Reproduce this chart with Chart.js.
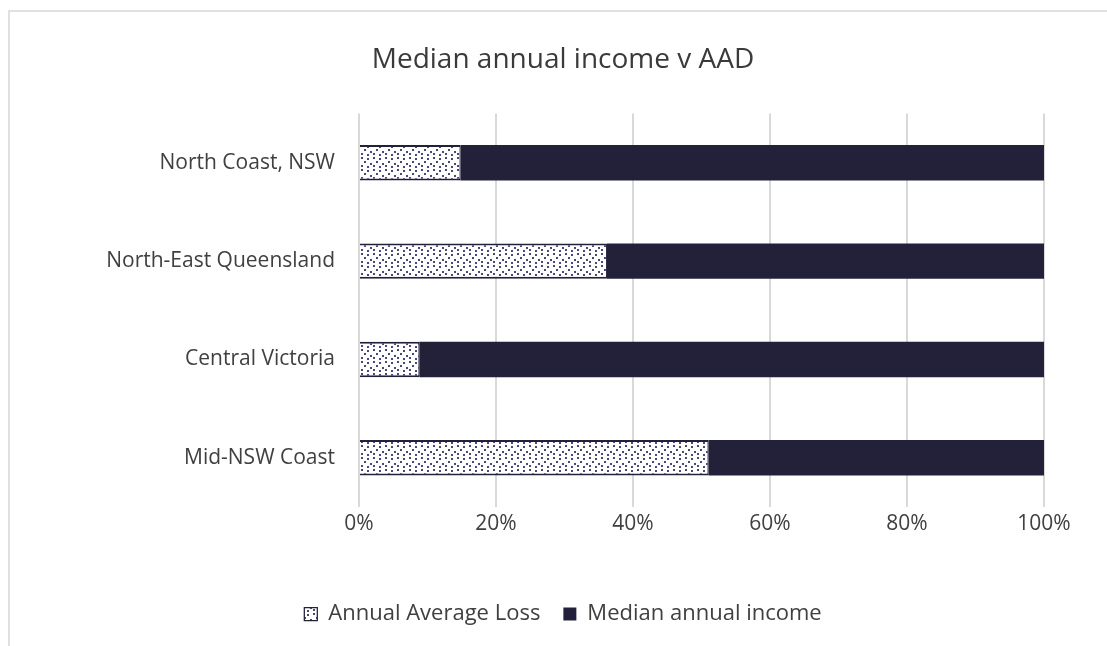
<!DOCTYPE html>
<html>
<head>
<meta charset="utf-8">
<script src="https://cdn.jsdelivr.net/npm/chart.js@4"></script>
<style>
    html, body { margin: 0; padding: 0; background: #fff; overflow: hidden; }
    #frame {
        position: absolute; left: 8px; top: 10px; width: 1200px; height: 700px;
        border-top: 2px solid #e0e0e0; border-left: 2px solid #e0e0e0;
    }
    #wrap { position: absolute; left: 0; top: 0; width: 1107px; height: 646px; }
</style>
</head>
<body>
<div id="frame"></div>
<div id="wrap"><canvas id="chart" width="1107" height="646"></canvas></div>
<script>
const regions = ['North Coast, NSW', 'North-East Queensland', 'Central Victoria', 'Mid-NSW Coast'];
const annualAverageLoss = [14.8, 36.2, 8.8, 51.0];
const medianIncome = [85.2, 63.8, 91.2, 49.0];
const xTicks = [0, 20, 40, 60, 80, 100];

const DARK = '#23213a';
const TEXT = '#404040';
const FONT = "'Open Sans', sans-serif";

// dotted fill for the loss series
function dotPattern() {
    const c = document.createElement('canvas');
    c.width = 12; c.height = 12;
    const g = c.getContext('2d');
    g.fillStyle = '#fff';
    g.fillRect(0, 0, 12, 12);
    g.fillStyle = '#4a4878';
    [[1, 1], [7, 2], [4, 5], [10, 7], [1, 9], [7, 10]].forEach(([x, y]) => g.fillRect(x, y, 2, 2));
    return g.createPattern(c, 'repeat');
}

document.addEventListener('DOMContentLoaded', () => {
    const ctx = document.getElementById('chart').getContext('2d');
    new Chart(ctx, {
        type: 'bar',
        data: {
            labels: regions,
            datasets: [{
                label: 'Annual Average Loss',
                data: annualAverageLoss,
                backgroundColor: dotPattern(),
                borderColor: DARK,
                borderWidth: { top: 2, bottom: 2, left: 0, right: 1 },
                borderSkipped: false,
                categoryPercentage: 1,
                barPercentage: 0.36,
            }, {
                label: 'Median annual income',
                data: medianIncome,
                backgroundColor: DARK,
                borderWidth: 0,
                categoryPercentage: 1,
                barPercentage: 0.36,
            }]
        },
        options: {
            indexAxis: 'y',
            responsive: false,
            animation: false,
            layout: { padding: { top: 0, right: 63, bottom: 11, left: 82 } },
            scales: {
                x: {
                    stacked: true, min: 0, max: 100,
                    afterBuildTicks: s => { s.ticks = xTicks.map(v => ({ value: v })); },
                    afterFit: s => { s.height = 73; },
                    grid: { color: '#d9d9d9', lineWidth: 2, drawTicks: false },
                    border: { display: false },
                    ticks: {
                        padding: 4, color: TEXT, font: { family: FONT, size: 21 },
                        callback: v => v + '%'
                    }
                },
                y: {
                    stacked: true,
                    afterFit: s => { s.width = 277; },
                    grid: { display: false, drawTicks: false },
                    border: { display: false },
                    ticks: { padding: 24, color: TEXT, font: { family: FONT, size: 21 } }
                }
            },
            plugins: {
                title: {
                    display: true,
                    text: 'Median annual income v AAD',
                    color: '#3a3a3a',
                    font: { family: FONT, size: 28, weight: 'normal' },
                    padding: { top: 43, bottom: 37 }
                },
                legend: {
                    position: 'bottom',
                    labels: {
                        color: TEXT, font: { family: FONT, size: 22 },
                        boxWidth: 13, boxHeight: 13, padding: 23
                    }
                },
                tooltip: { enabled: false }
            }
        }
    });
});
</script>
</body>
</html>
